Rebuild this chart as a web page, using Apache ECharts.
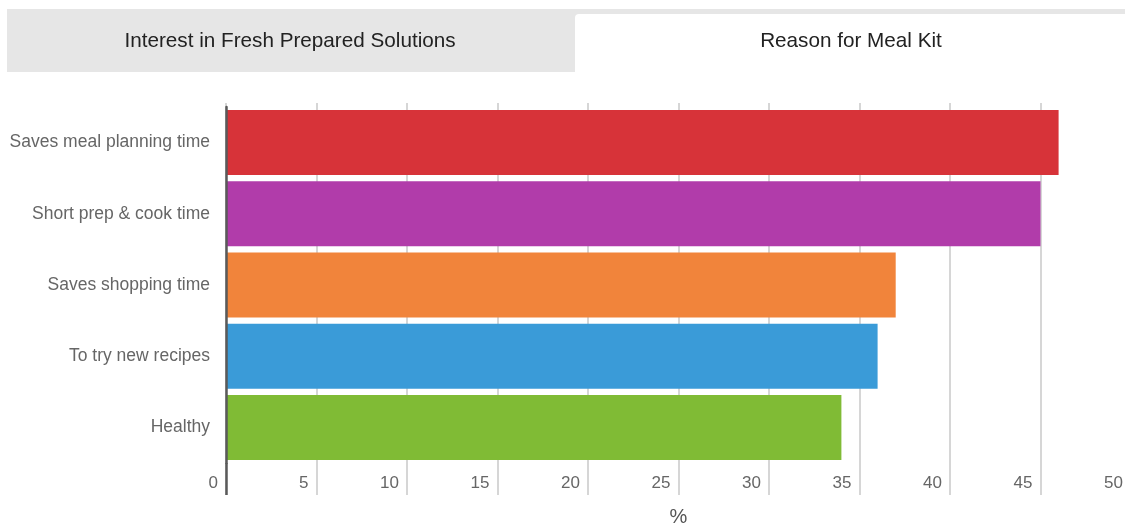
<!DOCTYPE html>
<html>
<head>
<meta charset="utf-8">
<script src="https://cdn.jsdelivr.net/npm/echarts@6/dist/echarts.min.js"></script>
<style>
  html, body { margin: 0; padding: 0; background: #fff; }
  #chart { width: 1125px; height: 525px; }
</style>
</head>
<body>
<div id="chart"></div>
<script>
// Reasons for buying a meal kit (% of respondents)
const categories = [
  'Saves meal planning time',
  'Short prep & cook time',
  'Saves shopping time',
  'To try new recipes',
  'Healthy'
];
const values = [46, 45, 37, 36, 34];
const barColors = ['#d73339', '#b13caa', '#f1843b', '#3a9bd8', '#80bb35'];
const tabLabels = ['Interest in Fresh Prepared Solutions', 'Reason for Meal Kit'];
const xTicks = { min: 0, max: 50, interval: 5 };
const axisTitle = '%';

const FONT = '"Liberation Sans", Arial, Helvetica, sans-serif';
const GRID = '#c9c9c9';
const AXIS = '#5a5a5a';

const chart = echarts.init(document.getElementById('chart'), null, { renderer: 'canvas' });

chart.setOption({
  animation: false,
  backgroundColor: '#fff',
  textStyle: { fontFamily: FONT },
  graphic: [
    // tab strip: inactive tab on the left, active (white) tab on the right
    { type: 'rect', shape: { x: 7, y: 9, width: 1125, height: 63 }, style: { fill: '#e6e6e6' }, silent: true },
    { type: 'rect', shape: { x: 575, y: 14, width: 560, height: 62, r: [4, 0, 0, 0] }, style: { fill: '#ffffff' }, silent: true },
    { type: 'text', x: 290, y: 41, style: { text: tabLabels[0], fill: '#222', font: '20.7px ' + FONT, textAlign: 'center', textVerticalAlign: 'middle' }, silent: true },
    { type: 'text', x: 851, y: 41, style: { text: tabLabels[1], fill: '#222', font: '20.7px ' + FONT, textAlign: 'center', textVerticalAlign: 'middle' }, silent: true }
  ],
  grid: { left: 226, top: 107, width: 905, height: 356, containLabel: false, outerBoundsMode: 'none' },
  xAxis: [
    {
      type: 'value',
      position: 'bottom',
      min: xTicks.min, max: xTicks.max, interval: xTicks.interval,
      name: axisTitle,
      nameLocation: 'middle',
      nameGap: 44,
      nameTextStyle: { color: '#555', fontSize: 20, fontFamily: FONT },
      axisLine: { show: false },
      axisTick: { show: true, inside: false, length: 32, lineStyle: { color: GRID, width: 1.5 } },
      axisLabel: {
        color: '#666', fontSize: 17, fontFamily: FONT,
        align: 'right', margin: 12, padding: [0, 8, 0, 0],
        showMinLabel: true, showMaxLabel: true
      },
      splitLine: { show: true, lineStyle: { color: GRID, width: 1.5 } }
    },
    {
      // darker extension of the value-axis origin line below the plot
      type: 'value',
      position: 'bottom',
      min: xTicks.min, max: xTicks.max, interval: xTicks.interval,
      z: 5,
      axisLine: { show: false },
      axisTick: { show: true, length: 32, customValues: [0], lineStyle: { color: AXIS, width: 2.5 } },
      axisLabel: { show: false },
      splitLine: { show: false }
    },
    {
      // short tick stubs above the plot
      type: 'value',
      position: 'top',
      min: xTicks.min, max: xTicks.max, interval: xTicks.interval,
      axisLine: { show: false },
      axisTick: { show: true, length: 4, lineStyle: { color: GRID, width: 1.5 } },
      axisLabel: { show: false },
      splitLine: { show: false }
    }
  ],
  yAxis: {
    type: 'category',
    data: categories,
    inverse: true,
    z: 5,
    axisLine: { show: true, lineStyle: { color: AXIS, width: 2.5 } },
    axisTick: { show: false },
    axisLabel: { color: '#666', fontSize: 17.5, fontFamily: FONT, margin: 16 },
    splitLine: { show: false }
  },
  series: [{
    type: 'bar',
    xAxisIndex: 0,
    data: values.map((v, i) => ({ value: v, itemStyle: { color: barColors[i] } })),
    barWidth: 65,
    z: 1
  }]
});
</script>
</body>
</html>
